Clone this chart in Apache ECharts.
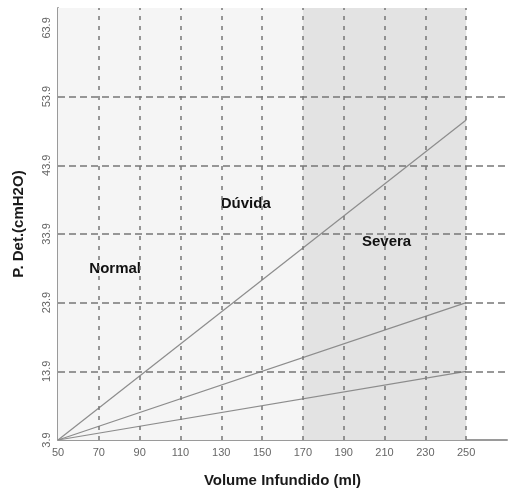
<!DOCTYPE html>
<html>
<head>
<meta charset="utf-8">
<script src="https://cdn.jsdelivr.net/npm/echarts@6/dist/echarts.min.js"></script>
<style>html,body{margin:0;padding:0;background:#fff;}#c{width:509px;height:498px;}</style>
</head>
<body>
<div id="c"></div>
<script>
// Data
var volumes = [50, 250];
var lineHigh = [3.9, 50.5];
var lineMid = [3.9, 23.9];
var lineLow = [3.9, 13.9];
var hLines = [13.9, 23.9, 33.9, 43.9, 53.9];
var vLines = [70, 90, 110, 130, 150, 170, 190, 210, 230, 250];
var zoneNormalDuvida = [50, 170];
var zoneSevera = [170, 250];
var annotNames = ['Normal', 'Dúvida', 'Severa'];
var annotX = [78, 142, 211];
var annotY = [28.8, 38.3, 32.7];

function pairs(xs, ys) { return xs.map(function (x, i) { return [x, ys[i]]; }); }

var chart = echarts.init(document.getElementById('c'));
var lineStyle = { color: '#8c8c8c', width: 1.2 };
var fontFam = '"Liberation Sans", Arial, sans-serif';

chart.setOption({
  animation: false,
  backgroundColor: '#ffffff',
  grid: { left: 58, top: 8, right: 2, bottom: 58, containLabel: false },
  xAxis: {
    type: 'value', min: 50, max: 270, interval: 20,
    name: 'Volume Infundido (ml)', nameLocation: 'middle', nameGap: 33,
    nameTextStyle: { fontSize: 15, fontWeight: 'bold', color: '#1a1a1a', fontFamily: fontFam },
    axisLine: { show: true, lineStyle: { color: '#9a9a9a', width: 2 } },
    axisTick: { show: false },
    axisLabel: { showMaxLabel: false, color: '#666', fontSize: 11, margin: 7, fontFamily: fontFam },
    splitLine: { show: false }
  },
  yAxis: {
    type: 'value', min: 3.9, max: 66.8, interval: 10,
    name: 'P. Det.(cmH2O)', nameLocation: 'middle', nameGap: 32,
    nameTextStyle: { fontSize: 15, fontWeight: 'bold', color: '#1a1a1a', fontFamily: fontFam },
    axisLine: { show: true, lineStyle: { color: '#9a9a9a', width: 2 } },
    axisTick: { show: false },
    axisLabel: { showMaxLabel: false, rotate: 90, color: '#666', fontSize: 11, margin: 6, fontFamily: fontFam,
      formatter: function (v) { return v.toFixed(1); } },
    splitLine: { show: false }
  },
  series: [
    {
      type: 'line', z: 0, data: [], silent: true,
      markArea: {
        silent: true,
        data: [
          [{ xAxis: zoneNormalDuvida[0], itemStyle: { color: '#f5f5f5' } }, { xAxis: zoneNormalDuvida[1] }],
          [{ xAxis: zoneSevera[0], itemStyle: { color: '#e3e3e3' } }, { xAxis: zoneSevera[1] }]
        ]
      }
    },
    {
      type: 'line', data: [], silent: true, z: 1,
      markLine: {
        silent: true, symbol: 'none', label: { show: false },
        data: hLines.map(function (v) {
          return { yAxis: v, lineStyle: { color: '#777', width: 1.5, type: [7, 4] } };
        }).concat(vLines.map(function (v) {
          return { xAxis: v, lineStyle: { color: '#777', width: 1.5, type: [4, 6] } };
        }))
      }
    },
    { type: 'line', z: 2, data: pairs(volumes, lineHigh), symbol: 'none', lineStyle: lineStyle },
    { type: 'line', z: 2, data: pairs(volumes, lineMid), symbol: 'none', lineStyle: lineStyle },
    { type: 'line', z: 2, data: pairs(volumes, lineLow), symbol: 'none', lineStyle: lineStyle },
    {
      type: 'scatter', z: 3, symbolSize: 0, silent: true,
      itemStyle: { opacity: 1 },
      data: annotNames.map(function (n, i) { return { name: n, value: [annotX[i], annotY[i]] }; }),
      label: { show: true, position: 'inside', formatter: '{b}', fontSize: 15, fontWeight: 'bold', color: '#111', opacity: 1, fontFamily: fontFam }
    }
  ]
});
</script>
</body>
</html>
